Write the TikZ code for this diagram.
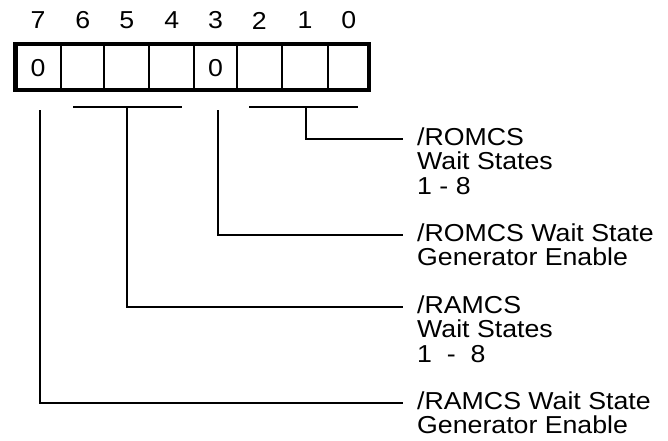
\documentclass[tikz,border=0pt]{standalone}
\usepackage{fontspec}
\setmainfont{Liberation Sans}[FakeStretch=1.09]
\begin{document}
\begin{tikzpicture}[x=1pt,y=-1pt,
  reg/.style={line width=4.5pt},
  cell/.style={line width=2pt},
  conn/.style={line width=2pt},
  bitnum/.style={inner sep=0pt,font=\fontsize{24.5}{24}\selectfont},
  lbl/.style={anchor=base west,inner sep=0pt,font=\fontsize{24.5}{24}\selectfont}]
\useasboundingbox (0,0) rectangle (668,440);
% register
\draw[reg] (15.3,44) rectangle (369,90);
\foreach \x in {61,104.3,149.3,194.3,236.7,281.7,328.3}
  \draw[cell] (\x,44) -- (\x,90);
% bit numbers
\foreach \x/\b in {38/7,82.7/6,126.8/5,171.8/4,215.5/3,259.2/2,305/1,348.7/0}
  \node[bitnum] (n\b) at (\x,20.5) {\b};
\node[bitnum] (v7) at (38,68.5) {0};
\node[bitnum] (v3) at (215.5,68.5) {0};
% bracket coordinates
\coordinate (b7) at (39.5,110);
\coordinate (b64l) at (73,107);
\coordinate (b64r) at (182,107);
\coordinate (b64m) at (127,107);
\coordinate (b3) at (218,110);
\coordinate (b20l) at (249,107);
\coordinate (b20r) at (358,107);
\coordinate (b20m) at (306,107);
\coordinate (e1) at (403,139);
\coordinate (e2) at (403,235);
\coordinate (e3) at (403,307);
\coordinate (e4) at (403,403);
% labels
\node[lbl] (l1) at (417,145) {\begin{tabular}[t]{@{}l@{}}/ROMCS\\Wait States\\1 - 8\end{tabular}};
\node[lbl] (l2) at (417,241) {\begin{tabular}[t]{@{}l@{}}/ROMCS Wait State\\Generator Enable\end{tabular}};
\node[lbl] (l3) at (417,313) {\begin{tabular}[t]{@{}l@{}}/RAMCS\\Wait States\\1\ \ -\ \ 8\end{tabular}};
\node[lbl] (l4) at (417,409) {\begin{tabular}[t]{@{}l@{}}/RAMCS Wait State\\Generator Enable\end{tabular}};
% connectors
\draw[conn] (b64l) -- (b64r);
\draw[conn] (b20l) -- (b20r);
\draw[conn] (b20m) |- (e1);
\draw[conn] (b3) |- (e2);
\draw[conn] (b64m) |- (e3);
\draw[conn] (b7) |- (e4);
\end{tikzpicture}
\end{document}
